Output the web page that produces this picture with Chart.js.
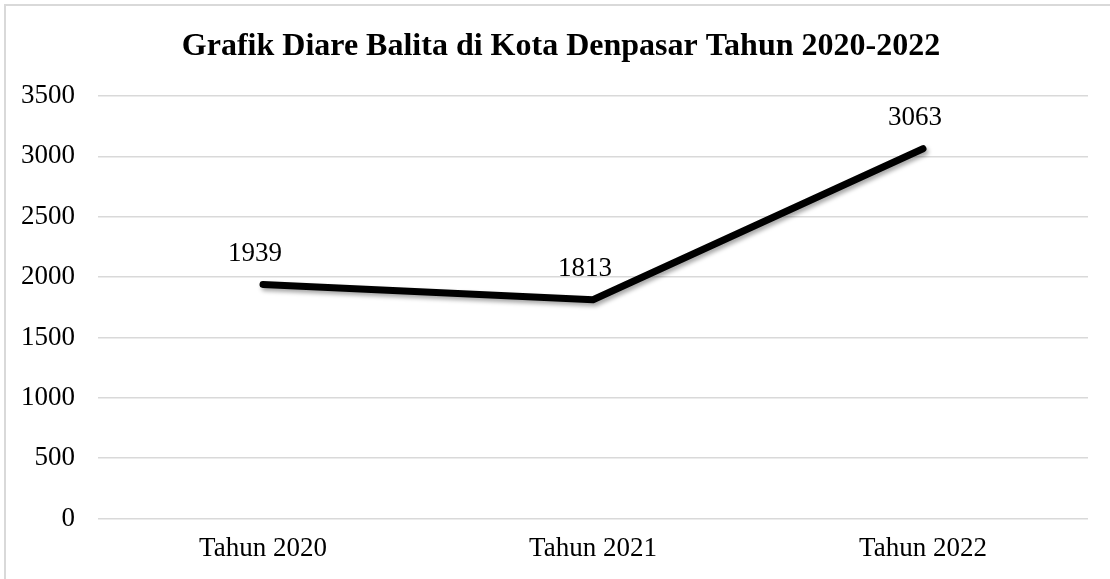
<!DOCTYPE html>
<html>
<head>
<meta charset="utf-8">
<script src="https://cdn.jsdelivr.net/npm/chart.js@4"></script>
<style>
    html, body { margin: 0; padding: 0; background: #fff; }
    #wrap { position: relative; width: 1110px; height: 579px; }
</style>
</head>
<body>
<div id="wrap"><canvas id="lineChart"></canvas></div>
<script>
const categories = ["Tahun 2020", "Tahun 2021", "Tahun 2022"];
const diareCases = [1939, 1813, 3063];
const yTicks = [0, 500, 1000, 1500, 2000, 2500, 3000, 3500];
const chartTitle = "Grafik Diare Balita di Kota Denpasar Tahun 2020-2022";

const FONT = "'Liberation Serif', 'Times New Roman', serif";

// ============================
// Frame (top + left edge only) and title
// ============================
const framePlugin = {
    id: "frame",
    beforeDraw(chart) {
        const ctx = chart.ctx;
        ctx.save();
        ctx.fillStyle = "#fff";
        ctx.fillRect(0, 0, chart.width, chart.height);
        ctx.fillStyle = "#d9d9d9";
        ctx.fillRect(4, 4, 2, chart.height);
        ctx.fillRect(4, 4, chart.width, 2);

        // title sits a bit right of centre, like the original
        ctx.fillStyle = "#000";
        ctx.font = "bold 32px " + FONT;
        ctx.textAlign = "center";
        ctx.textBaseline = "middle";
        ctx.fillText(chartTitle, 561, 47);
        ctx.restore();
    }
};

// soft shadow under the line
const shadowPlugin = {
    id: "lineShadow",
    beforeDatasetsDraw(chart) {
        const ctx = chart.ctx;
        ctx.save();
        ctx.shadowColor = "rgba(0,0,0,0.35)";
        ctx.shadowBlur = 4;
        ctx.shadowOffsetX = 2;
        ctx.shadowOffsetY = 3;
    },
    afterDatasetsDraw(chart) {
        chart.ctx.restore();
    }
};

// value labels above each point
const valueLabels = {
    id: "valueLabels",
    afterDatasetsDraw(chart) {
        const ctx = chart.ctx;
        const meta = chart.getDatasetMeta(0);
        ctx.save();
        ctx.font = "27px " + FONT;
        ctx.fillStyle = "#000";
        ctx.textAlign = "center";
        ctx.textBaseline = "middle";
        meta.data.forEach((pt, i) => {
            ctx.fillText(String(diareCases[i]), pt.x - 8, pt.y - 31);
        });
        ctx.restore();
    }
};

const ctx = document.getElementById("lineChart").getContext("2d");

new Chart(ctx, {

    type: "line",

    data: {
        labels: categories,
        datasets: [{
            label: "Diare Balita",
            data: diareCases,
            borderColor: "#000",
            borderWidth: 7,
            borderCapStyle: "round",
            borderJoinStyle: "round",
            pointRadius: 0,
            pointHoverRadius: 0,
            tension: 0,
            fill: false
        }]
    },

    options: {
        responsive: true,
        maintainAspectRatio: false,
        animation: false,
        events: [],
        layout: {
            padding: { left: 8, right: 22, top: 96, bottom: 0 }
        },
        plugins: {
            legend: { display: false },
            tooltip: { enabled: false },
            title: { display: false }
        },
        scales: {
            x: {
                offset: true,
                grid: { display: false, drawTicks: false },
                border: { display: false },
                ticks: {
                    color: "#000",
                    padding: 14,
                    maxRotation: 0,
                    font: { family: FONT, size: 27 }
                }
            },
            y: {
                min: yTicks[0],
                max: yTicks[yTicks.length - 1],
                afterFit(scale) { scale.width = 90; },
                afterBuildTicks(scale) {
                    scale.ticks = yTicks.map(v => ({ value: v }));
                },
                grid: { color: "#d9d9d9", lineWidth: 1.5, drawTicks: false },
                border: { display: false },
                ticks: {
                    color: "#000",
                    padding: 23,
                    font: { family: FONT, size: 27 },
                    callback: (value) => String(value)
                }
            }
        }
    },

    plugins: [framePlugin, shadowPlugin, valueLabels]

});
</script>
</body>
</html>
